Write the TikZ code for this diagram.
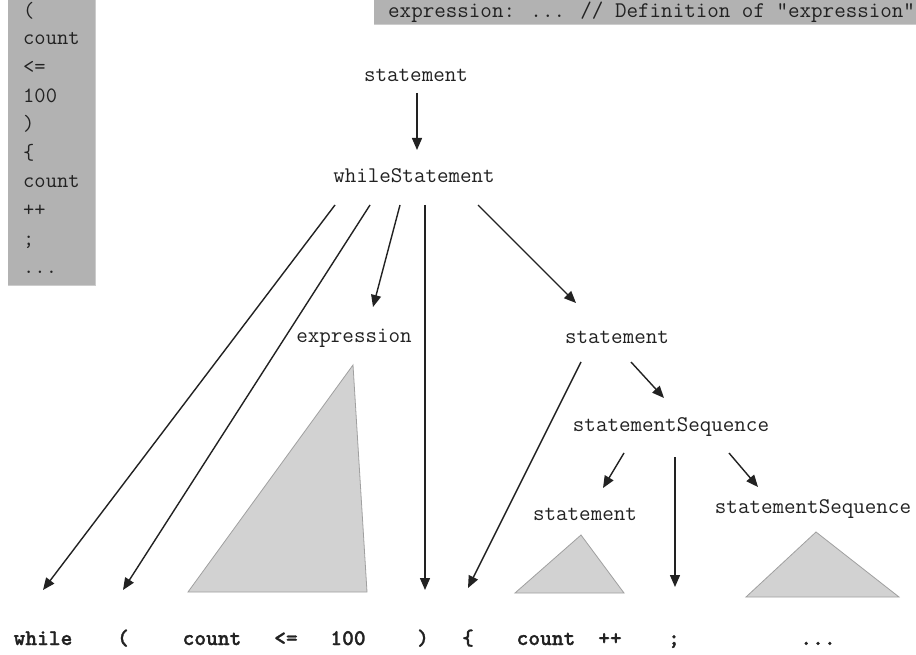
\documentclass[tikz,border=0pt]{standalone}
\usepackage{fontspec}
\newfontfamily\boldtt[FakeBold=1.2]{lmmonolt10-bold.otf}
\usetikzlibrary{arrows.meta,calc}
\definecolor{boxgray}{HTML}{B2B2B2}
\definecolor{trifill}{HTML}{D2D2D2}
\definecolor{triedge}{HTML}{A0A0A0}
\definecolor{ink}{HTML}{222222}
\tikzset{
  lbl/.style={anchor=base,inner sep=0pt,text=ink,font=\ttfamily\fontsize{22.4}{24}\selectfont},
  tok/.style={anchor=base,inner sep=0pt,text=ink,font=\boldtt\fontsize{22.4}{24}\selectfont},
  boxtxt/.style={anchor=base west,inner sep=0pt,text=ink,font=\ttfamily\fontsize{21.9}{24}\selectfont},
  arr/.style={draw=ink,line width=1.4pt,-{Triangle[length=12pt,width=10pt]}},
  tri/.style={fill=trifill,draw=triedge,line width=0.8pt}
}
\begin{document}
\begin{tikzpicture}[x=1pt,y=-1pt]
\useasboundingbox (0,0) rectangle (916,655);
\clip (0,0) rectangle (916,655);
\fill[white] (0,0) rectangle (916,655);
% token box (left)
\fill[boxgray] (8,0) rectangle (95,285);
\draw[black!20,line width=0.8pt] (95.5,0) -- (95.5,285.5) -- (8,285.5);
\node[boxtxt] (b1) at (23,17.4) {(};
\node[boxtxt] (b2) at (23,45) {count};
\node[boxtxt] (b3) at (23,73.6) {<=};
\node[boxtxt] (b4) at (23,102.2) {100};
\node[boxtxt] (b5) at (23,130.8) {)};
\node[boxtxt] (b6) at (23,159.4) {\{};
\node[boxtxt] (b7) at (23,188) {count};
\node[boxtxt] (b8) at (23,216.6) {++};
\node[boxtxt] (b9) at (23,245.2) {;};
\node[boxtxt] (b10) at (23,273.8) {...};
% grammar box (top right)
\fill[boxgray] (374,0) rectangle (916,24);
\draw[black!20,line width=0.8pt] (374,24.5) -- (916,24.5);
\node[boxtxt,font=\ttfamily\fontsize{22.4}{24}\selectfont] (gram) at (388,17.5) {expression: ... // Definition of "expression"};
% nodes
\node[lbl] (st1) at (416,82) {statement};
\node[lbl] (ws) at (414,183) {whileStatement};
\node[lbl] (expr) at (354,342) {expression};
\node[lbl] (st2) at (617,343) {statement};
\node[lbl] (ss1) at (671,431) {statementSequence};
\node[lbl] (st3) at (585,520) {statement};
\node[lbl] (ss2) at (813,513) {statementSequence};
% bottom tokens
\node[tok] (while) at (43,645) {while};
\node[tok] (lp) at (123,645) {(};
\node[tok] (cnt1) at (212,645) {count};
\node[tok] (le) at (286,645) {<=};
\node[tok] (hundred) at (348,645) {100};
\node[tok] (rp) at (423,645) {)};
\node[tok] (lb) at (468,645) {\{};
\node[tok] (cnt2) at (546,645) {count};
\node[tok] (pp) at (610,645) {++};
\node[tok] (semi) at (674,645) {;};
\node[tok] (dots) at (818,645) {...};
% triangles
\draw[tri] (353,365) -- (188,592) -- (367,592) -- cycle;
\draw[tri] (581,535) -- (515,593) -- (624,593) -- cycle;
\draw[tri] (816,532) -- (746,597) -- (899,597) -- cycle;
% connectors
\draw[arr] ($(st1.base)+(1,11)$) -- ($(ws.base)+(3,-33)$);
\draw[arr] ($(ws.base)+(-79,22)$) -- ($(while.base)+(0,-55)$);
\draw[arr] ($(ws.base)+(-44,22)$) -- ($(lp.base)+(0,-55)$);
\draw[arr] ($(ws.base)+(-14,22)$) -- ($(expr.base)+(19,-35)$);
\draw[arr] ($(ws.base)+(11,22)$) -- ($(rp.base)+(2,-55)$);
\draw[arr] ($(ws.base)+(64,22)$) -- ($(st2.base)+(-41,-40)$);
\draw[arr] ($(st2.base)+(-36,19)$) -- ($(lb.base)+(0,-57)$);
\draw[arr] ($(st2.base)+(14,19)$) -- ($(ss1.base)+(-7,-33)$);
\draw[arr] ($(ss1.base)+(-47,22)$) -- ($(st3.base)+(18,-32)$);
\draw[arr] ($(ss1.base)+(4,26)$) -- ($(semi.base)+(1,-58)$);
\draw[arr] ($(ss1.base)+(58,22)$) -- ($(ss2.base)+(-55,-26)$);
\end{tikzpicture}
\end{document}
